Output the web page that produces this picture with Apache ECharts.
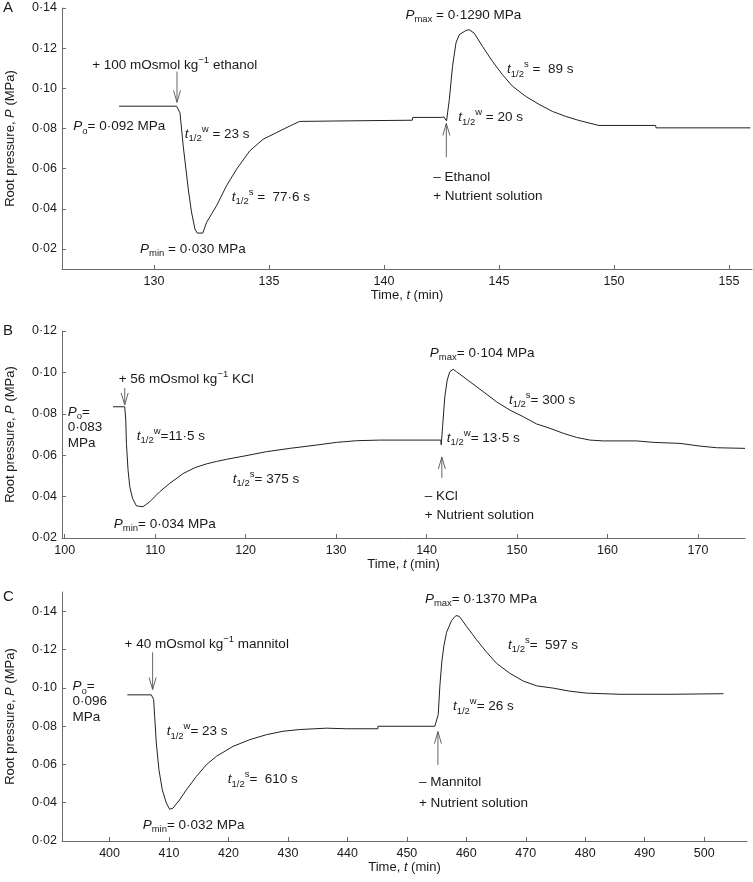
<!DOCTYPE html>
<html><head><meta charset="utf-8">
<script src="https://cdn.jsdelivr.net/npm/echarts@6/dist/echarts.min.js"></script>
<style>html,body{margin:0;padding:0;background:#fff}#c{width:753px;height:882px}</style>
</head><body><div id="c"></div>
<script>
// ---------- DATA ----------
const timeA = [128.48,130.98,131.13,131.27,131.49,131.63,131.78,131.88,132.12,132.29,132.72,133.15,133.59,134.16,134.74,135.32,135.90,136.33,138.50,141.23,141.25,142.49,142.60,142.72,142.84,142.98,143.13,143.27,143.56,143.70,143.92,144.28,144.71,145.15,145.58,146.16,146.74,147.32,147.90,148.47,149.34,151.81,151.83,155.93];
const pressA = [0.0911,0.0911,0.0878,0.0713,0.0498,0.0384,0.0299,0.0279,0.0279,0.0333,0.0415,0.0514,0.0597,0.0688,0.0746,0.0779,0.0812,0.0835,0.0838,0.0841,0.0855,0.0855,0.0858,0.0838,0.0944,0.1110,0.1226,0.1267,0.1288,0.1292,0.1275,0.1209,0.1135,0.1068,0.1011,0.0960,0.0920,0.0885,0.0860,0.0840,0.0815,0.0815,0.0803,0.0803];

const timeB = [105.34,106.63,106.75,106.82,107.00,107.19,107.49,107.93,108.66,109.40,110.51,111.61,113.08,114.40,115.67,116.80,117.88,119.72,122.30,124.88,127.83,130.05,132.26,134.83,141.58,141.62,141.77,142.02,142.28,142.57,142.94,143.32,144.79,146.26,147.74,149.21,150.68,152.16,153.63,155.10,156.58,158.06,159.53,163.22,165.06,168.01,170.22,172.07,175.20];
const pressB = [0.0834,0.0834,0.0770,0.0657,0.0529,0.0448,0.0392,0.0355,0.0351,0.0375,0.0424,0.0464,0.0511,0.0540,0.0558,0.0570,0.0580,0.0595,0.0617,0.0633,0.0649,0.0662,0.0670,0.0673,0.0673,0.0650,0.0738,0.0883,0.0963,0.1003,0.1015,0.1003,0.0955,0.0907,0.0858,0.0818,0.0786,0.0751,0.0730,0.0706,0.0686,0.0673,0.0669,0.0669,0.0662,0.0657,0.0644,0.0636,0.0633];

const timeC = [402.98,407.02,407.41,407.58,407.86,408.30,408.87,409.55,410.10,410.66,411.78,412.91,414.60,416.28,417.96,420.76,423.57,426.38,429.18,431.99,436.48,439.85,445.12,445.14,454.71,455.27,455.56,455.89,456.23,456.68,457.53,458.25,458.81,460.05,461.73,463.42,465.10,467.34,469.58,471.83,474.63,477.44,480.25,485.86,494.28,503.25];
const pressC = [0.0963,0.0963,0.0939,0.0851,0.0712,0.0572,0.0467,0.0398,0.0366,0.0371,0.0415,0.0467,0.0537,0.0598,0.0642,0.0694,0.0729,0.0755,0.0773,0.0782,0.0789,0.0786,0.0786,0.0799,0.0799,0.0860,0.1015,0.1140,0.1220,0.1290,0.1352,0.1377,0.1373,0.1320,0.1250,0.1185,0.1127,0.1075,0.1035,0.1010,0.0998,0.0982,0.0972,0.0966,0.0966,0.0969];

const xTicksA = [130,135,140,145,150,155];
const xTicksB = [100,110,120,130,140,150,160,170];
const xTicksC = [400,410,420,430,440,450,460,470,480,490,500];
const yTicksA = [0.02,0.04,0.06,0.08,0.10,0.12,0.14];
const yTicksB = [0.02,0.04,0.06,0.08,0.10,0.12];
const yTicksC = [0.02,0.04,0.06,0.08,0.10,0.12,0.14];

// ---------- ANNOTATIONS (data coordinates) ----------
const notesA = [
  {t:127.31,p:0.1113,parts:[['+ 100 mOsmol kg'],['\u22121','sup'],[' ethanol']]},
  {t:126.49,p:0.0810,parts:[['P','i'],['o','sub'],['= 0\u00b7092 MPa']]},
  {t:131.34,p:0.0771,parts:[['t','i'],['1/2','sub'],['w','sup'],[' = 23 s']]},
  {t:133.38,p:0.0458,parts:[['t','i'],['1/2','sub'],['s','sup'],[' =  77\u00b76 s']]},
  {t:129.39,p:0.0200,parts:[['P','i'],['min','sub'],[' = 0\u00b7030 MPa']]},
  {t:140.93,p:0.1366,parts:[['P','i'],['max','sub'],[' = 0\u00b71290 MPa']]},
  {t:145.35,p:0.1093,parts:[['t','i'],['1/2','sub'],['s','sup'],[' =  89 s']]},
  {t:143.23,p:0.0855,parts:[['t','i'],['1/2','sub'],['w','sup'],[' = 20 s']]},
  {t:142.14,p:0.0557,parts:[['\u2013 Ethanol']]},
  {t:142.14,p:0.0463,parts:[['+ Nutrient solution']]}
];
const notesB = [
  {t:105.97,p:0.0968,parts:[['+ 56 mOsmol kg'],['\u22121','sup'],[' KCl']]},
  {t:100.33,p:0.0809,parts:[['P','i'],['o','sub'],['=']]},
  {t:100.33,p:0.0736,parts:[['0\u00b7083']]},
  {t:100.33,p:0.0659,parts:[['MPa']]},
  {t:107.96,p:0.0693,parts:[['t','i'],['1/2','sub'],['w','sup'],['=11\u00b75 s']]},
  {t:118.58,p:0.0485,parts:[['t','i'],['1/2','sub'],['s','sup'],['= 375 s']]},
  {t:105.42,p:0.0268,parts:[['P','i'],['min','sub'],['= 0\u00b7034 MPa']]},
  {t:140.36,p:0.1094,parts:[['P','i'],['max','sub'],['= 0\u00b7104 MPa']]},
  {t:149.10,p:0.0867,parts:[['t','i'],['1/2','sub'],['s','sup'],['= 300 s']]},
  {t:142.24,p:0.0683,parts:[['t','i'],['1/2','sub'],['w','sup'],['= 13\u00b75 s']]},
  {t:139.81,p:0.0403,parts:[['\u2013 KCl']]},
  {t:139.81,p:0.0311,parts:[['+ Nutrient solution']]}
];
const notesC = [
  {t:402.53,p:0.1227,parts:[['+ 40 mOsmol kg'],['\u22121','sup'],[' mannitol']]},
  {t:393.77,p:0.1007,parts:[['P','i'],['o','sub'],['=']]},
  {t:393.77,p:0.0928,parts:[['0\u00b7096']]},
  {t:393.77,p:0.0845,parts:[['MPa']]},
  {t:409.60,p:0.0771,parts:[['t','i'],['1/2','sub'],['w','sup'],['= 23 s']]},
  {t:419.87,p:0.0520,parts:[['t','i'],['1/2','sub'],['s','sup'],['=  610 s']]},
  {t:405.56,p:0.0284,parts:[['P','i'],['min','sub'],['= 0\u00b7032 MPa']]},
  {t:453.03,p:0.1463,parts:[['P','i'],['max','sub'],['= 0\u00b71370 MPa']]},
  {t:467.00,p:0.1222,parts:[['t','i'],['1/2','sub'],['s','sup'],['=  597 s']]},
  {t:457.74,p:0.0902,parts:[['t','i'],['1/2','sub'],['w','sup'],['= 26 s']]},
  {t:452.02,p:0.0504,parts:[['\u2013 Mannitol']]},
  {t:452.02,p:0.0399,parts:[['+ Nutrient solution']]}
];
const arrowsA = [{t:131.0,from:0.1083,to:0.0930},{t:142.71,from:0.0657,to:0.0825}];
const arrowsB = [{t:106.63,from:0.0925,to:0.0843},{t:141.69,from:0.0490,to:0.0591}];
const arrowsC = [{t:407.24,from:0.1185,to:0.0991},{t:455.22,from:0.0598,to:0.0771}];

// ---------- CHART ----------
const FONT = '"Liberation Sans", Arial, Helvetica, sans-serif';
const TXT = '#1a1a1a';
const AX = '#6a6a6a';
const zip = (a,b)=>a.map((v,i)=>[v,b[i]]);
const fmtY = v => v.toFixed(2).replace('.', '\u00b7');

const panels = [
  {grid:{left:62,top:8,right:1,height:261}, xr:[126,156], yr:[0.01,0.14], xt:xTicksA, yt:yTicksA, data:zip(timeA,pressA), notes:notesA, arrows:arrowsA, letter:'A', ly:8},
  {grid:{left:62,top:331,right:8,height:207}, xr:[99.7,175.2], yr:[0.02,0.12], xt:xTicksB, yt:yTicksB, data:zip(timeB,pressB), notes:notesB, arrows:arrowsB, letter:'B', ly:331},
  {grid:{left:62,top:592,right:6,height:249}, xr:[392,507.2], yr:[0.02,0.15], xt:xTicksC, yt:yTicksC, data:zip(timeC,pressC), notes:notesC, arrows:arrowsC, letter:'C', ly:597}
];

const chart = echarts.init(document.getElementById('c'), null, {renderer:'canvas'});
const option = {
  animation:false,
  backgroundColor:'#fff',
  grid: panels.map(p=>Object.assign({containLabel:false, outerBoundsMode:'none'}, p.grid)),
  xAxis: panels.map((p,i)=>({
    type:'value', gridIndex:i, min:p.xr[0], max:p.xr[1],
    name:'Time, {i|t} (min)', nameLocation:'middle', nameGap:18,
    nameTextStyle:{fontFamily:FONT,fontSize:13,color:TXT,verticalAlign:'top',rich:{i:{fontStyle:'italic',fontFamily:FONT,fontSize:13,color:TXT}}},
    axisLine:{show:true,onZero:false,lineStyle:{color:AX,width:1}},
    axisTick:{show:true,inside:true,length:4,customValues:p.xt,lineStyle:{color:AX}},
    axisLabel:{customValues:p.xt,fontFamily:FONT,fontSize:12.5,color:TXT,margin:6,formatter:v=>String(Math.round(v))},
    splitLine:{show:false}
  })),
  yAxis: panels.map((p,i)=>({
    type:'value', gridIndex:i, min:p.yr[0], max:p.yr[1],
    name:'Root pressure, {i|P} (MPa)', nameLocation:'middle', nameGap:45,
    nameTextStyle:{fontFamily:FONT,fontSize:13,color:TXT,rich:{i:{fontStyle:'italic',fontFamily:FONT,fontSize:13,color:TXT}}},
    axisLine:{show:true,onZero:false,lineStyle:{color:AX,width:1}},
    axisTick:{show:true,inside:true,length:4,customValues:p.yt,lineStyle:{color:AX}},
    axisLabel:{customValues:p.yt,fontFamily:FONT,fontSize:12.5,color:TXT,margin:5,formatter:fmtY},
    splitLine:{show:false}
  })),
  series: panels.map((p,i)=>({
    type:'line', xAxisIndex:i, yAxisIndex:i, data:p.data, showSymbol:false, symbol:'none',
    lineStyle:{color:'#222',width:1}, silent:true
  }))
};
chart.setOption(option);

// annotations
const ctx = document.createElement('canvas').getContext('2d');
const graphics = [];
panels.forEach((pn,gi)=>{
  graphics.push({type:'text', left:3, top:pn.ly-8, silent:true,
    style:{text:pn.letter, font:'15px '+FONT, fill:TXT}});
  pn.notes.forEach(n=>{
    const pt = chart.convertToPixel({gridIndex:gi},[n.t,n.p]);
    let x = pt[0]; const y0 = pt[1];
    n.parts.forEach(([txt,st])=>{
      const small = st==='sub'||st==='sup';
      const size = small?9.5:13.5;
      const font = (st==='i'?'italic ':'')+size+'px '+FONT;
      ctx.font = font;
      const w = ctx.measureText(txt).width;
      const dy = st==='sub'?4.5:(st==='sup'?-5:0);
      graphics.push({type:'text', x:x, y:y0+dy, silent:true,
        style:{text:txt, font:font, fill:TXT, textVerticalAlign:'middle', verticalAlign:'middle', textAlign:'left', align:'left'}});
      x += w;
    });
  });
  pn.arrows.forEach(a=>{
    const p1 = chart.convertToPixel({gridIndex:gi},[a.t,a.from]);
    const p2 = chart.convertToPixel({gridIndex:gi},[a.t,a.to]);
    const dir = p2[1] > p1[1] ? 1 : -1;
    graphics.push({type:'polyline', silent:true, shape:{points:[p1,p2]}, style:{stroke:'#555',lineWidth:0.9,fill:null}});
    graphics.push({type:'polyline', silent:true, shape:{points:[[p2[0]-3.5,p2[1]-dir*12],p2,[p2[0]+3.5,p2[1]-dir*12]]}, style:{stroke:'#555',lineWidth:0.9,fill:null}});
  });
});
chart.setOption({graphic:graphics});
</script>
</body></html>
